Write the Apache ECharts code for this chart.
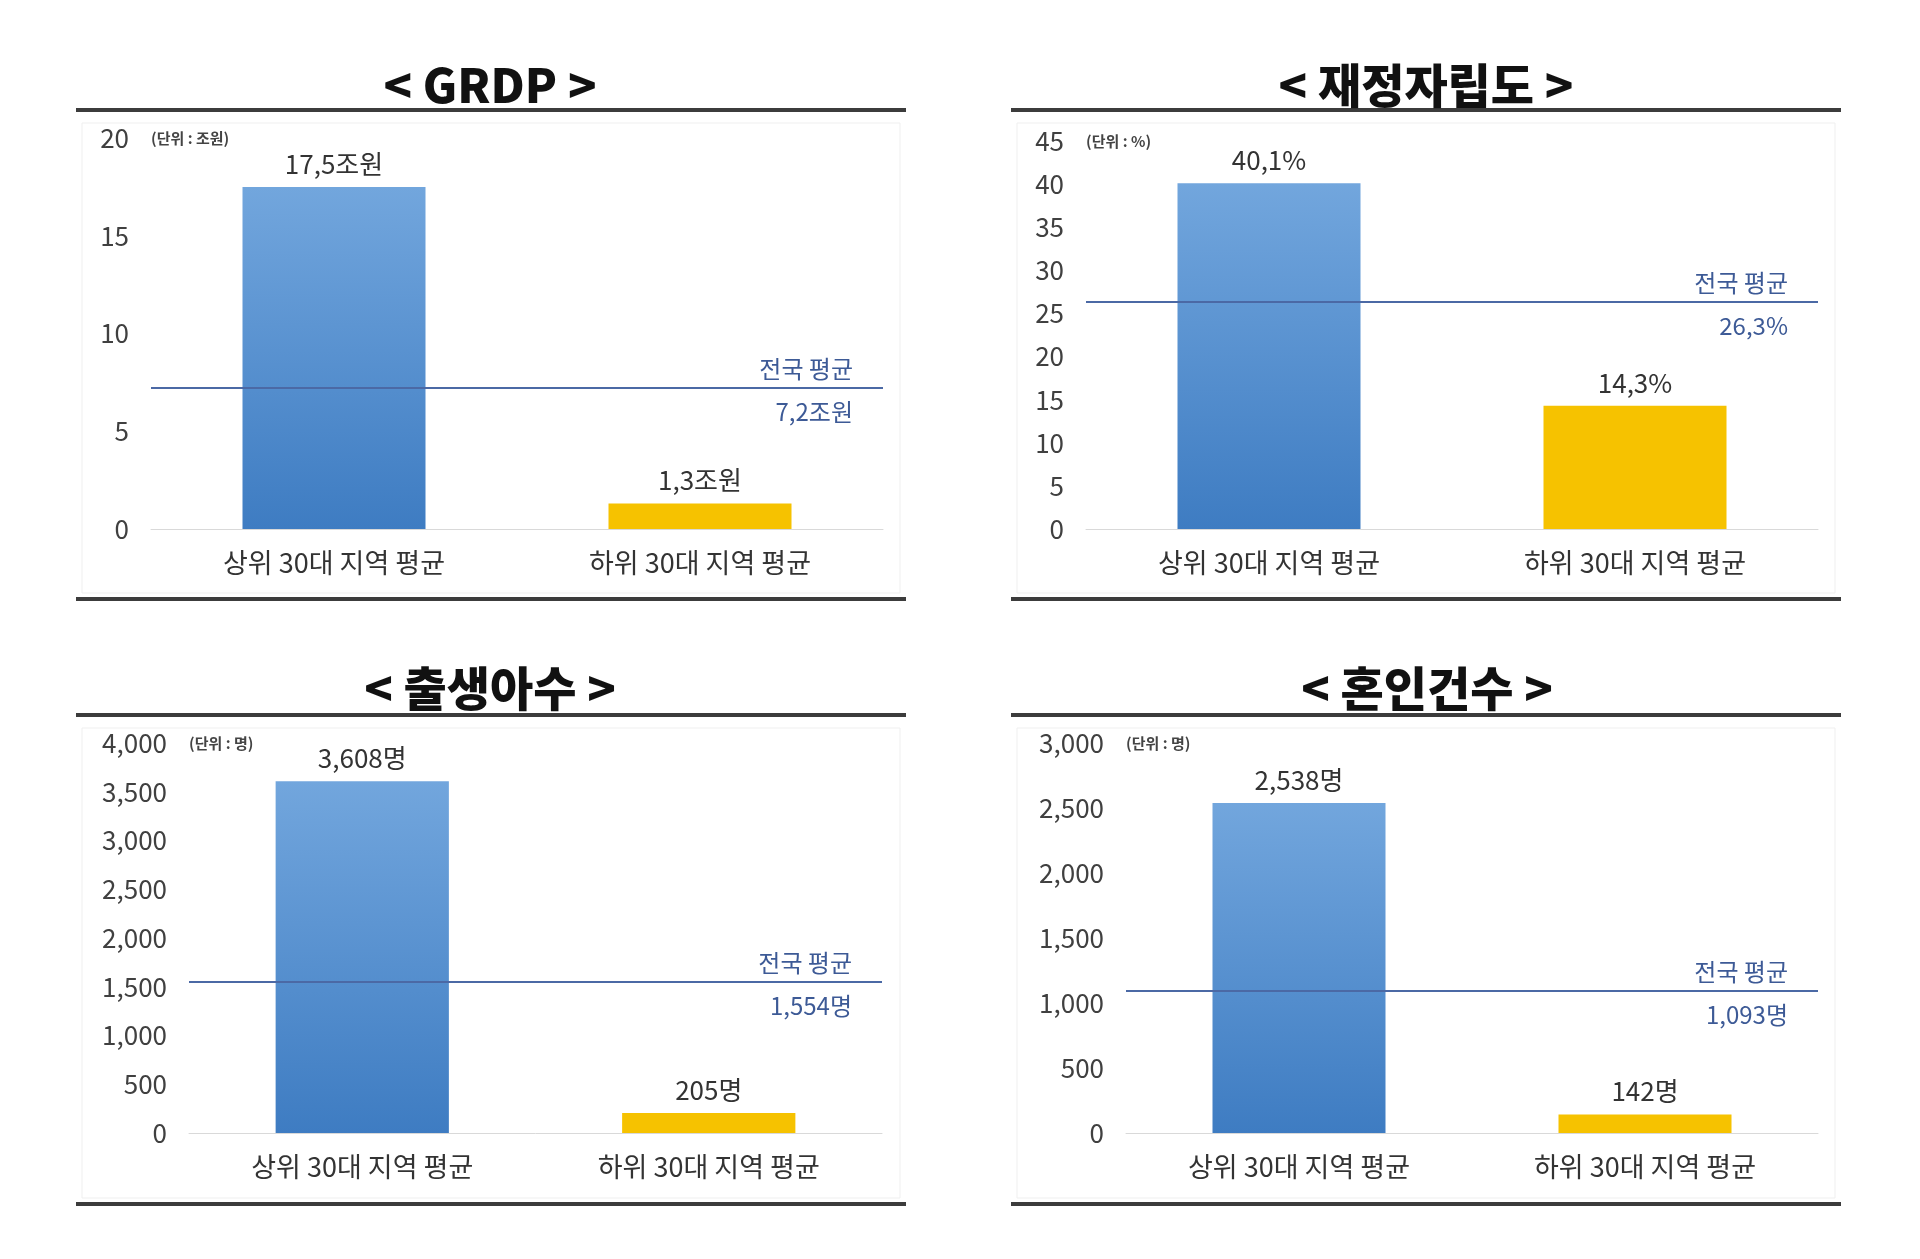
<!DOCTYPE html>
<html>
<head>
<meta charset="utf-8">
<script src="https://cdn.jsdelivr.net/npm/echarts@6/dist/echarts.min.js"></script>
<style>
  html, body { margin: 0; padding: 0; background: #fff; }
  #main { width: 1920px; height: 1259px; }
</style>
</head>
<body>
<div id="main"></div>
<script>
const categories = ['상위 30대 지역 평균', '하위 30대 지역 평균'];

const grdpValues = [17.5, 1.3];
const grdpAvg = 7.2;
const fiscalValues = [40.1, 14.3];
const fiscalAvg = 26.3;
const birthValues = [3608, 205];
const birthAvg = 1554;
const marriageValues = [2538, 142];
const marriageAvg = 1093;

const titles = ['< GRDP >', '< 재정자립도 >', '< 출생아수 >', '< 혼인건수 >'];
const unitLabels = ['(단위 : 조원)', '(단위 : %)', '(단위 : 명)', '(단위 : 명)'];
const avgName = '전국 평균';

const FONT = '"Noto Sans CJK KR", "Noto Sans", sans-serif';
const decimal = suffix => v => String(v).replace('.', ',') + suffix;
const count = suffix => v => Number(v).toLocaleString('en-US') + suffix;

const panels = [
  { values: grdpValues, avg: grdpAvg, fmt: decimal('조원'), max: 20, interval: 5,
    grid: { left: 151, top: 138, width: 732, height: 391 }, cx: 490, ty: 85, box: [76, 108] },
  { values: fiscalValues, avg: fiscalAvg, fmt: decimal('%'), max: 45, interval: 5,
    grid: { left: 1086, top: 141, width: 732, height: 388 }, cx: 1426, ty: 85, box: [1011, 108] },
  { values: birthValues, avg: birthAvg, fmt: count('명'), max: 4000, interval: 500,
    grid: { left: 189, top: 743, width: 693, height: 390 }, cx: 490, ty: 688, box: [76, 713] },
  { values: marriageValues, avg: marriageAvg, fmt: count('명'), max: 3000, interval: 500,
    grid: { left: 1126, top: 743, width: 692, height: 390 }, cx: 1427, ty: 688, box: [1011, 713] }
];

const barColors = [
  new echarts.graphic.LinearGradient(0, 0, 0, 1, [
    { offset: 0, color: '#72A6DD' },
    { offset: 1, color: '#3E7CC2' }
  ]),
  '#F6C200'
];

const graphic = [];
panels.forEach((p, i) => {
  const [bx, by] = p.box;
  // faint chart-area frame
  graphic.push({ type: 'rect', shape: { x: bx + 6, y: by + 15, width: 818, height: 470 },
    style: { fill: 'none', stroke: '#efefef', lineWidth: 1 }, z: 0 });
  // top and bottom rules
  graphic.push({ type: 'rect', shape: { x: bx, y: by, width: 830, height: 4 },
    style: { fill: '#3c3c3c' } });
  graphic.push({ type: 'rect', shape: { x: bx, y: by + 489, width: 830, height: 4 },
    style: { fill: '#3c3c3c' } });
  graphic.push({ type: 'text', x: p.cx, y: p.ty,
    style: { text: titles[i], align: 'center', verticalAlign: 'middle',
      font: '900 47px ' + FONT, fill: '#111' } });
});

const option = {
  backgroundColor: '#fff',
  animation: false,
  graphic: graphic,
  grid: panels.map(p => p.grid),
  xAxis: panels.map((p, i) => ({
    type: 'category',
    gridIndex: i,
    data: categories,
    axisLine: { lineStyle: { color: '#d9d9d9', width: 1 } },
    axisTick: { show: false },
    axisLabel: { color: '#333', fontSize: 27, fontFamily: FONT, margin: 20 }
  })),
  yAxis: panels.map((p, i) => ({
    type: 'value',
    gridIndex: i,
    min: 0,
    max: p.max,
    interval: p.interval,
    name: unitLabels[i],
    nameLocation: 'end',
    nameGap: 0,
    nameTextStyle: { align: 'left', verticalAlign: 'middle', fontSize: 15,
      fontWeight: 'bold', color: '#444', fontFamily: FONT },
    axisLine: { show: false },
    axisTick: { show: false },
    splitLine: { show: false },
    axisLabel: { color: '#404040', fontSize: 26, fontFamily: FONT, margin: 22 }
  })),
  series: panels.map((p, i) => ({
    type: 'bar',
    xAxisIndex: i,
    yAxisIndex: i,
    barWidth: '50%',
    data: p.values.map((v, k) => ({ value: v, itemStyle: { color: barColors[k] } })),
    label: {
      show: true, position: 'top', distance: 10,
      color: '#333', fontSize: 26, fontFamily: FONT,
      formatter: d => p.fmt(d.value)
    },
    markLine: {
      silent: true,
      symbol: 'none',
      lineStyle: { color: '#4B69A5', width: 2, type: 'solid' },
      label: { color: '#3D5A96', fontSize: 24, fontFamily: FONT },
      data: [
        { yAxis: p.avg,
          label: { position: 'insideEndTop', distance: [30, 7], formatter: avgName } },
        { yAxis: p.avg, lineStyle: { color: 'rgba(0,0,0,0)', width: 0 },
          label: { position: 'insideEndBottom', distance: [30, 12], formatter: p.fmt(p.avg),
            color: '#3D5A96' } }
      ]
    }
  }))
};

const chart = echarts.init(document.getElementById('main'));
chart.setOption(option);
</script>
</body>
</html>
